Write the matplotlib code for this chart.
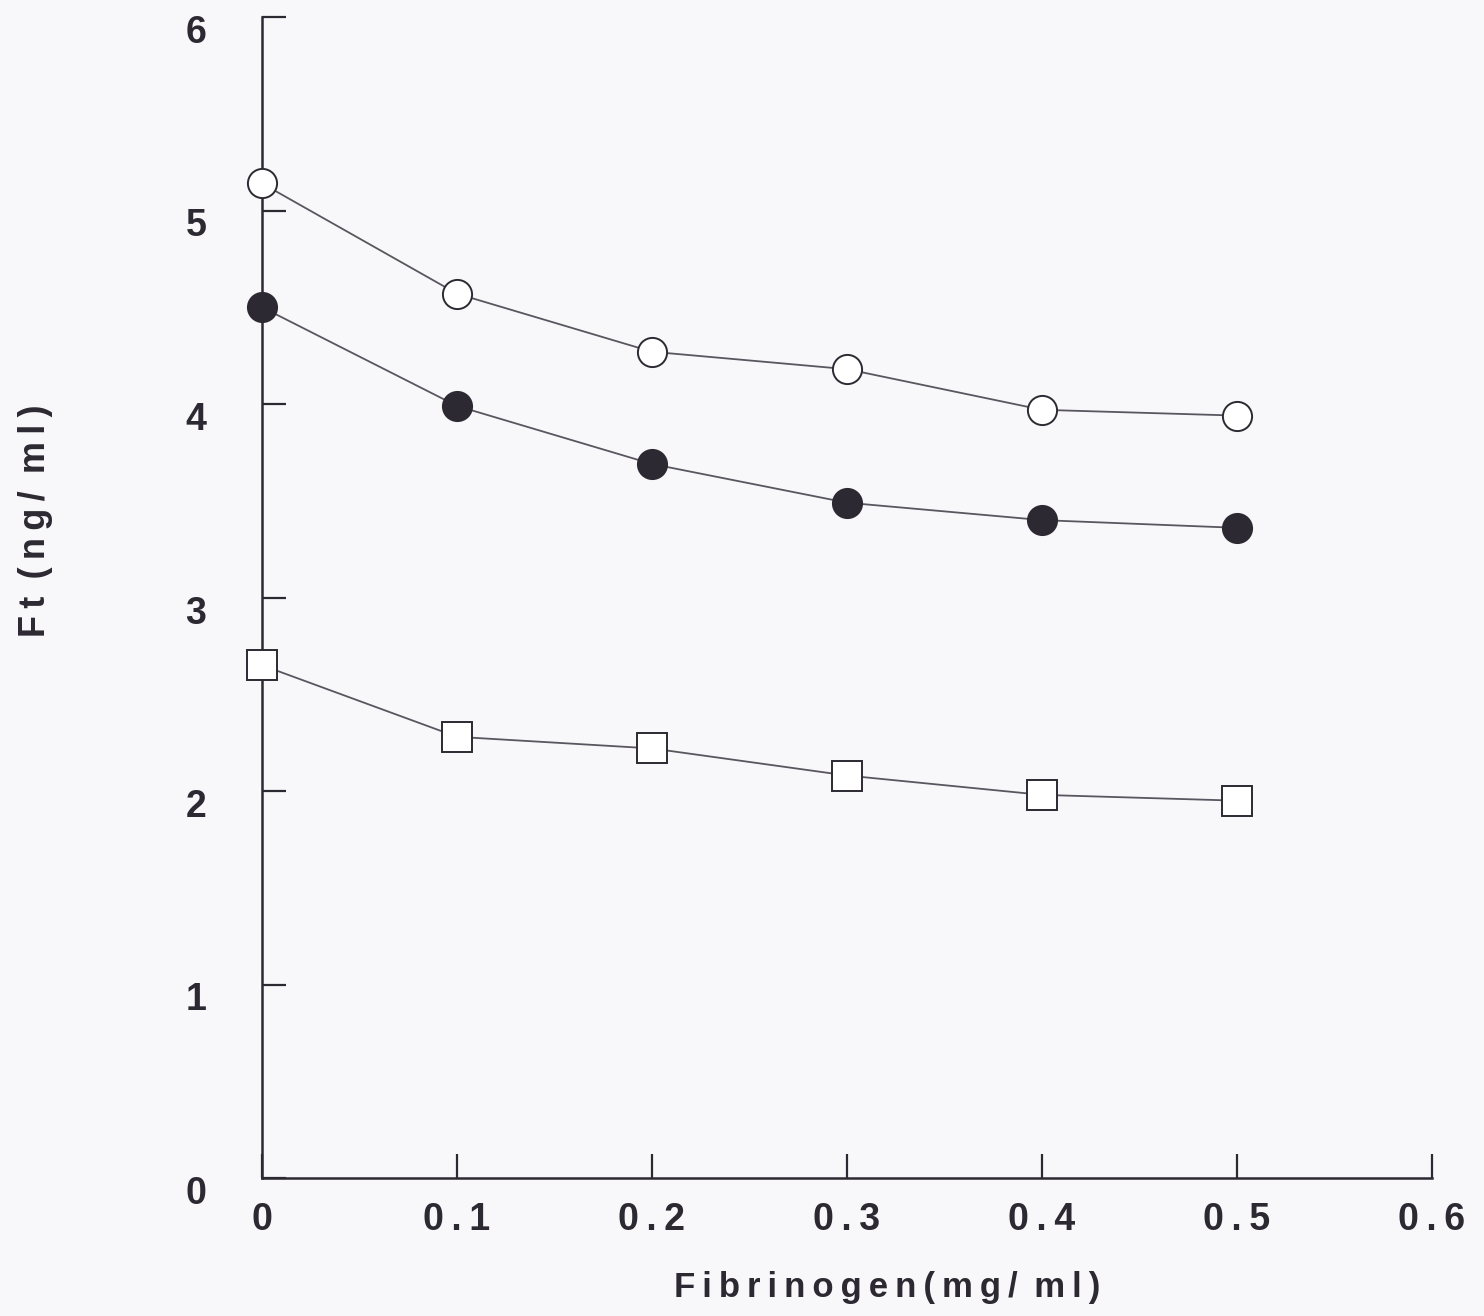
import matplotlib
matplotlib.use("Agg")
import matplotlib.pyplot as plt
from matplotlib.transforms import ScaledTranslation

# Ft versus fibrinogen, three series
fibrinogen = [0.0, 0.1, 0.2, 0.3, 0.4, 0.5]
ft_open_circle = [5.14, 4.57, 4.27, 4.18, 3.97, 3.94]
ft_filled_circle = [4.50, 3.99, 3.69, 3.49, 3.40, 3.36]
ft_open_square = [2.65, 2.28, 2.22, 2.08, 1.98, 1.95]

x_ticks = [0.0, 0.1, 0.2, 0.3, 0.4, 0.5, 0.6]
x_tick_labels = ["0", "0.1", "0.2", "0.3", "0.4", "0.5", "0.6"]
y_ticks = [0, 1, 2, 3, 4, 5, 6]
y_tick_labels = ["0", "1", "2", "3", "4", "5", "6"]

INK = "#2d2932"
LINE = "#5a5660"
BG = "#f8f8fa"
FONT = ["Liberation Sans", "DejaVu Sans"]


def spaced(s):
    # the original lettering is loosely tracked
    return "\u2009".join(s)


fig = plt.figure(figsize=(14.84, 13.16), dpi=100, facecolor=BG)
ax = fig.add_axes([262 / 1484, 1 - 1178 / 1316, 1170 / 1484, 1161 / 1316])
ax.set_facecolor(BG)

ax.plot(fibrinogen, ft_open_circle, color=LINE, lw=1.3, marker="o", ms=21,
        mfc="white", mec=INK, mew=1.4, zorder=3, clip_on=False)
ax.plot(fibrinogen, ft_filled_circle, color=LINE, lw=1.3, marker="o", ms=21,
        mfc=INK, mec=INK, mew=1.4, zorder=3, clip_on=False)
ax.plot(fibrinogen, ft_open_square, color=LINE, lw=1.3, marker="s", ms=21,
        mfc="white", mec=INK, mew=1.4, zorder=3, clip_on=False)

ax.set_xlim(0, 0.6)
ax.set_ylim(0, 6)
for side in ["top", "right"]:
    ax.spines[side].set_visible(False)
for side in ["left", "bottom"]:
    ax.spines[side].set_linewidth(1.8)
    ax.spines[side].set_color(INK)

ax.set_xticks(x_ticks)
ax.set_xticklabels([spaced(t) for t in x_tick_labels])
ax.set_yticks(y_ticks)
ax.set_yticklabels(y_tick_labels)
ax.tick_params(axis="both", direction="in", length=17, width=1.6, color=INK,
               labelcolor=INK, labelsize=27)
ax.tick_params(axis="x", pad=17)
ax.tick_params(axis="y", pad=40)

for lab in ax.get_xticklabels() + ax.get_yticklabels():
    lab.set_family(FONT)
    lab.set_fontweight("bold")
for lab in ax.get_yticklabels():
    lab.set_transform(lab.get_transform() + ScaledTranslation(0, -0.12, fig.dpi_scale_trans))

fig.text(887 / 1484, 1 - 1288 / 1316, spaced("Fibrinogen(mg/") + "\u2009 " + spaced("ml)"),
         ha="center", va="center", fontsize=25, fontweight="bold", color=INK, family=FONT)
fig.text(36 / 1484, 1 - 521 / 1316, "F\u2009t\u2009 (\u2009n\u2009g\u2009/\u2009 m\u2009l\u2009)",
         ha="center", va="center", rotation=90, fontsize=26, fontweight="bold",
         color=INK, family=FONT)

fig.savefig("out.png", dpi=100, facecolor=BG)
